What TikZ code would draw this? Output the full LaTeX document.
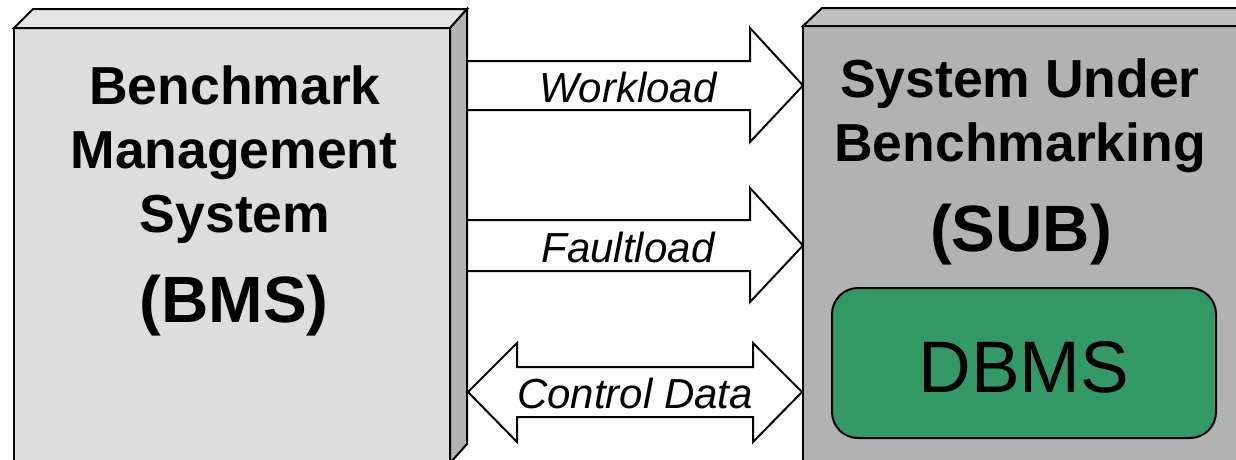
\documentclass[tikz,border=0pt]{standalone}
\usepackage{fontspec}
\setmainfont{Liberation Sans}
\definecolor{bmsfront}{HTML}{DDDDDD}
\definecolor{bmstop}{HTML}{E6E6E6}
\definecolor{sidegray}{HTML}{B2B2B2}
\definecolor{subtop}{HTML}{C0C0C0}
\definecolor{dbmsgreen}{HTML}{339966}
\begin{document}
\begin{tikzpicture}[x=1pt,y=-1pt,
  edge/.style={draw=black, line width=2pt, line join=miter},
  blockarrow/.style={edge, fill=white},
  title/.style={anchor=base, font=\fontsize{53.5}{60}\selectfont\bfseries},
  bigtitle/.style={anchor=base, font=\fontsize{65.5}{72}\selectfont\bfseries},
  label/.style={anchor=base, font=\fontsize{42}{48}\selectfont\itshape}]
\useasboundingbox (0,0) rectangle (1236,459);
\fill[white] (0,0) rectangle (1236,459);
\clip (0,0) rectangle (1236,459);
% BMS box
\draw[edge, fill=bmsfront] (14,28) rectangle (450,463);
\draw[edge, fill=bmstop] (14,28) -- (33,9) -- (467,9) -- (450,28) -- cycle;
\draw[edge, fill=sidegray] (450,28) -- (467,9) -- (467,444) -- (450,463) -- cycle;
% SUB box
\draw[edge, fill=sidegray] (803,26) rectangle (1260,470);
\draw[edge, fill=subtop] (803,26) -- (822,8) -- (1270,8) -- (1260,26) -- cycle;
% arrows
\draw[blockarrow] (467,61) -- (750,61) -- (750,28) -- (803,85.5) -- (750,142) -- (750,110) -- (467,110) -- cycle;
\draw[blockarrow] (467,220) -- (750,220) -- (750,188) -- (803,245.5) -- (750,302) -- (750,271) -- (467,271) -- cycle;
\draw[blockarrow] (468,392) -- (517,343) -- (517,367) -- (753,367) -- (753,343) -- (802,392) -- (753,442) -- (753,417) -- (517,417) -- (517,442) -- cycle;
% BMS text
\node[title] (bms1) at (235,104) {Benchmark};
\node[title] (bms2) at (234,168) {Management};
\node[title] (bms3) at (235,232) {System};
\node[bigtitle] (bms4) at (234,322) {(BMS)};
% SUB text
\node[title] (sub1) at (1020,97) {System Under};
\node[title] (sub2) at (1020,161) {Benchmarking};
\node[bigtitle] (sub3) at (1021,251) {(SUB)};
% DBMS
\draw[edge, fill=dbmsgreen, rounded corners=26pt] (832,288) rectangle (1216,438);
\node[anchor=base, font=\fontsize{73}{80}\selectfont] (dbms) at (1024,392) {DBMS};
% labels
\node[label] (wl) at (628,102) {Workload};
\node[label] (fl) at (628,262) {Faultload};
\node[label] (cd) at (635,408) {Control Data};
\end{tikzpicture}
\end{document}
